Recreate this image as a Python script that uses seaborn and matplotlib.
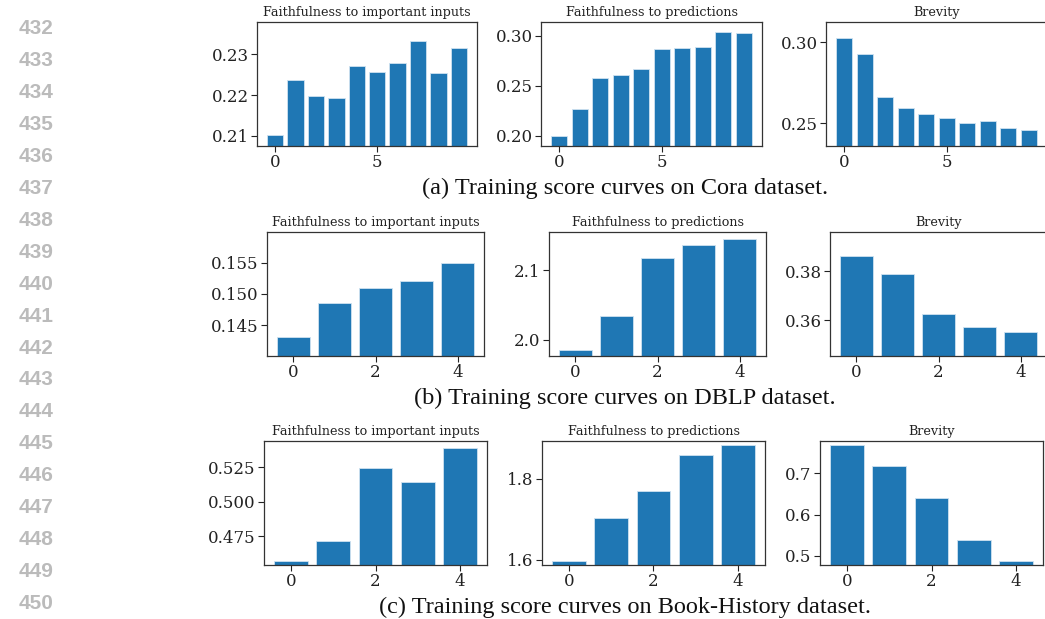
import matplotlib
matplotlib.use("Agg")
import matplotlib.pyplot as plt
import seaborn as sns

sns.set_style("ticks")
plt.rcParams["font.family"] = ["DejaVu Serif"]

# titles of the three panels in each row
titles = ["Faithfulness to important inputs", "Faithfulness to predictions", "Brevity"]

# (a) Cora, 10 epochs
cora_inputs = [0.2103, 0.2237, 0.2198, 0.2192, 0.2270, 0.2256, 0.2278, 0.2333, 0.2254, 0.2316]
cora_preds = [0.1997, 0.2271, 0.2576, 0.2606, 0.2672, 0.2874, 0.2881, 0.2888, 0.3044, 0.3027]
cora_brev = [0.3025, 0.2926, 0.2659, 0.2591, 0.2554, 0.2531, 0.2500, 0.2512, 0.2469, 0.2459]

# (b) DBLP, 5 epochs
dblp_inputs = [0.1432, 0.1485, 0.1509, 0.1521, 0.1549]
dblp_preds = [1.986, 2.034, 2.118, 2.136, 2.145]
dblp_brev = [0.3862, 0.3789, 0.3623, 0.3570, 0.3551]

# (c) Book-History, 5 epochs
book_inputs = [0.4568, 0.4714, 0.5243, 0.5146, 0.5391]
book_preds = [1.597, 1.704, 1.770, 1.858, 1.883]
book_brev = [0.7688, 0.7186, 0.6412, 0.5387, 0.4879]

# y limits and ticks
ylims = [
    [(0.2075, 0.2379), (0.190, 0.314), (0.2358, 0.3125)],
    [(0.1401, 0.1599), (1.977, 2.155), (0.3453, 0.396)],
    [(0.4539, 0.5442), (1.587, 1.893), (0.4782, 0.7784)],
]
yticks = [
    [[0.21, 0.22, 0.23], [0.20, 0.25, 0.30], [0.25, 0.30]],
    [[0.145, 0.150, 0.155], [2.0, 2.1], [0.36, 0.38]],
    [[0.475, 0.500, 0.525], [1.6, 1.8], [0.5, 0.6, 0.7]],
]
ytick_labels = [
    [["0.21", "0.22", "0.23"], ["0.20", "0.25", "0.30"], ["0.25", "0.30"]],
    [["0.145", "0.150", "0.155"], ["2.0", "2.1"], ["0.36", "0.38"]],
    [["0.475", "0.500", "0.525"], ["1.6", "1.8"], ["0.5", "0.6", "0.7"]],
]
xticks = [[0, 5], [0, 2, 4], [0, 2, 4]]

captions = [
    "(a) Training score curves on Cora dataset.",
    "(b) Training score curves on DBLP dataset.",
    "(c) Training score curves on Book-History dataset.",
]
line_numbers = list(range(432, 451))

data = [
    [cora_inputs, cora_preds, cora_brev],
    [dblp_inputs, dblp_preds, dblp_brev],
    [book_inputs, book_preds, book_brev],
]

W, H = 1045, 619
fig = plt.figure(figsize=(W / 100, H / 100), dpi=100)

# axes boxes in pixels: (left, top, width, height)
boxes = [
    [(257, 22, 220, 124), (541, 22, 221, 124), (826, 22, 221, 124)],
    [(267, 232, 217, 124), (549, 232, 217, 124), (830, 232, 217, 124)],
    [(264, 441, 223, 124), (542, 441, 223, 124), (820, 441, 223, 124)],
]

for r in range(3):
    for c in range(3):
        l, t, w, h = boxes[r][c]
        ax = fig.add_axes([l / W, 1 - (t + h) / H, w / W, h / H])
        vals = data[r][c]
        n = len(vals)
        sns.barplot(x=list(range(n)), y=vals, ax=ax, color="#1f77b4", saturation=1,
                    width=0.8, edgecolor="#cfe2f0", linewidth=0.6)
        ax.set_xlim(-0.4 - 0.05 * (n - 0.2), n - 0.6 + 0.05 * (n - 0.2))
        ax.set_ylim(*ylims[r][c])
        ax.set_xticks(xticks[r])
        ax.set_xticklabels([str(x) for x in xticks[r]])
        ax.set_yticks(yticks[r][c])
        ax.set_yticklabels(ytick_labels[r][c])
        ax.tick_params(labelsize=12, length=4, width=0.8, pad=2, colors="#222222")
        ax.set_xlabel("")
        ax.set_ylabel("")
        for s in ax.spines.values():
            s.set_linewidth(0.9)
            s.set_color("#333333")
        ax.set_title(titles[c], fontsize=9.2, pad=4, color="#222222")

caption_y = [188, 398, 607]
for cap, y in zip(captions, caption_y):
    fig.text(625 / W, 1 - y / H, cap, ha="center", va="center",
             fontsize=17.5, family="Liberation Serif", color="#111111")

for i, num in enumerate(line_numbers):
    fig.text(36 / W, 1 - (29 + i * 31.9) / H, str(num), ha="center", va="center",
             fontsize=15, family="Liberation Sans", weight="bold", color="#bbbbbb")

fig.savefig("out.png", dpi=100)
